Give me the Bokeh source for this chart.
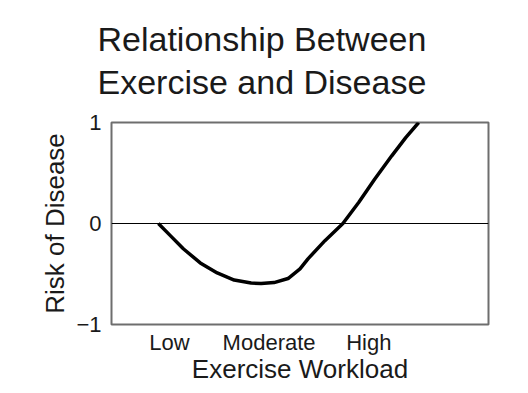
from bokeh.plotting import figure
from bokeh.models import Range1d, FixedTicker, Span, Title
from bokeh.embed import file_html
from bokeh.resources import INLINE

# Data
workload_x = [0.89, 1.01, 1.14, 1.31, 1.48, 1.65, 1.82, 1.92, 2.05, 2.19, 2.31, 2.39, 2.56, 2.74, 2.90, 3.06, 3.23, 3.37, 3.50]
risk_y = [0.0, -0.12, -0.25, -0.39, -0.49, -0.56, -0.59, -0.595, -0.585, -0.545, -0.45, -0.35, -0.17, 0.0, 0.21, 0.44, 0.67, 0.85, 1.0]
x_tick_pos = [1, 2, 3]
x_tick_labels = ["Low", "Moderate", "High"]
y_tick_pos = [-1, 0, 1]
y_tick_labels = ["\u22121", "0", "1"]
title_text = "Relationship Between\nExercise and Disease"

FONT = "Liberation Sans"

p = figure(frame_width=377, frame_height=202, output_backend="svg", toolbar_location=None,
           x_range=Range1d(0.42, 4.2), y_range=Range1d(-1, 1),
           min_border_left=111, min_border_right=40, min_border_bottom=0, min_border_top=120)
p.title = Title(text=title_text, align="left", offset=-14, text_font=FONT,
                text_font_size="34px", text_font_style="normal", text_color="#1a1a1a",
                standoff=39, text_line_height=1.12, vertical_align="top")

p.background_fill_color = "white"
p.border_fill_color = "white"
p.outline_line_color = "#6e6e6e"
p.outline_line_width = 2
p.xgrid.visible = False
p.ygrid.visible = False

p.line(workload_x, risk_y, line_color="black", line_width=3.5)
p.add_layout(Span(location=0, dimension="width", line_color="black", line_width=1))

for ax in (p.xaxis[0], p.yaxis[0]):
    ax.axis_line_color = None
    ax.major_tick_line_color = None
    ax.minor_tick_line_color = None
    ax.major_tick_out = 0
    ax.major_tick_in = 0
    ax.minor_tick_out = 0
    ax.major_label_text_font = FONT
    ax.major_label_text_font_size = "22px"
    ax.major_label_text_color = "#1a1a1a"
    ax.axis_label_text_font = FONT
    ax.axis_label_text_font_size = "26px"
    ax.axis_label_text_font_style = "normal"
    ax.axis_label_text_color = "#1a1a1a"

p.xaxis.ticker = FixedTicker(ticks=x_tick_pos)
p.xaxis.major_label_overrides = {t: l for t, l in zip(x_tick_pos, x_tick_labels)}
p.xaxis.major_label_standoff = 5
p.xaxis.axis_label = "Exercise Workload"
p.xaxis.axis_label_standoff = -4

p.yaxis.ticker = FixedTicker(ticks=y_tick_pos)
p.yaxis.major_label_overrides = {t: l for t, l in zip(y_tick_pos, y_tick_labels)}
p.yaxis.major_label_standoff = 10
p.yaxis.axis_label = "Risk of Disease"
p.yaxis.axis_label_standoff = 3

open("out.html", "w").write(file_html(p, INLINE))
